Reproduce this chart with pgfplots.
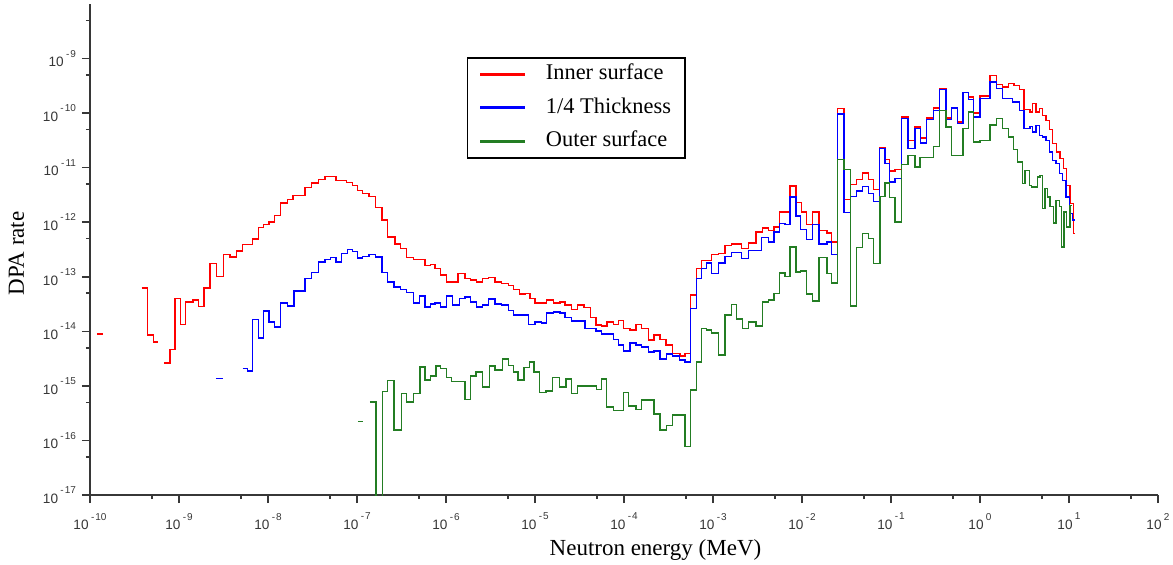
\documentclass[border=0pt]{standalone}
\usepackage{fontspec}
\setmainfont{Liberation Serif}
\newfontfamily\arialf{Liberation Sans}
\usepackage{pgfplots}
\pgfplotsset{compat=1.18}
\definecolor{innerc}{RGB}{255,0,0}
\definecolor{quarterc}{RGB}{0,0,255}
\definecolor{outerc}{RGB}{35,125,35}
\definecolor{axisgray}{RGB}{55,55,55}
% tick label 10^n, the exponent set as raised text
\newcommand{\tl}[1]{10\kern1.2pt\raisebox{4.8pt}{\fontsize{5}{6}\selectfont#1}}
\newcommand{\mi}{-\kern0.5pt}

\begin{document}
\begin{tikzpicture}
\begin{axis}[
  width=534pt, height=245.5pt, scale only axis,
  xmode=log, ymode=log,
  xmin=1e-10, xmax=1e2, ymin=1e-17, ymax=1e-8,
  axis x line*=bottom, axis y line*=left,
  axis line style={-, axisgray, line width=0.75pt},
  tick style={axisgray, line width=0.75pt},
  tick align=outside,
  major tick length=4pt, minor tick length=2pt,
  xtick={1e-10,1e-9,1e-8,1e-7,1e-6,1e-5,1e-4,1e-3,1e-2,1e-1,1,10,100},
  xticklabels={\tl{\mi10},\tl{\mi9},\tl{\mi8},\tl{\mi7},\tl{\mi6},\tl{\mi5},\tl{\mi4},\tl{\mi3},\tl{\mi2},\tl{\mi1},\tl{0},\tl{1},\tl{2}},
  minor xtick={5e-10,5e-9,5e-8,5e-7,5e-6,5e-5,5e-4,5e-3,5e-2,5e-1,5,50},
  ytick={1e-17,1e-16,1e-15,1e-14,1e-13,1e-12,1e-11,1e-10,1e-9},
  yticklabels={\tl{\mi17},\tl{\mi16},\tl{\mi15},\tl{\mi14},\tl{\mi13},\tl{\mi12},\tl{\mi11},\tl{\mi10},\tl{\mi9}},
  minor ytick={5e-17,5e-16,5e-15,5e-14,5e-13,5e-12,5e-11,5e-10,5e-9},
  ticklabel style={font=\arialf\fontsize{6.8}{7.5}\selectfont, text=axisgray},
  xticklabel style={yshift=-1.5pt},
  yticklabel style={xshift=0.5pt},
  xlabel={Neutron energy (MeV)},
  xlabel style={font=\fontsize{11.5}{13}\selectfont, at={(axis description cs:0.5295,-0.1242)}, anchor=base},
  ylabel={DPA rate},
  ylabel style={font=\fontsize{11.5}{13}\selectfont, at={(axis description cs:-0.0618,0.4919)}, anchor=base},
  legend style={at={(0.353,0.892)}, anchor=north west, draw=black, line width=0.75pt,
    font=\fontsize{11.2}{13}\selectfont, inner xsep=5.5pt, inner ysep=1.5pt, row sep=3.3pt,
    nodes={inner sep=1.5pt, text height=8pt, text depth=2.5pt}},
  legend cell align=left,
  legend image code/.code={\draw[#1, line width=1.5pt] (0pt,0pt) -- (22.5pt,0pt); \path (31pt,0pt);},
  every axis plot/.append style={const plot, line width=0.7pt, mark=none},
]
% Inner surface
\addplot[innerc] coordinates {
(6.84e-10,2.65e-15) (7.92e-10,4.66e-15) (9.02e-10,4.0e-14) (1.045e-9,1.35e-14)
(1.19e-9,3.43e-14) (1.43e-9,3.73e-14) (1.66e-9,2.86e-14) (1.92e-9,6.26e-14)
(2.23e-9,1.77e-13) (2.65e-9,1.01e-13) (3.15e-9,2.59e-13) (3.74e-9,2.31e-13)
(4.45e-9,2.98e-13) (5.14e-9,3.91e-13) (6.73e-9,4.94e-13) (7.78e-9,7.99e-13)
(8.88e-9,9.2e-13) (1.03e-8,1.01e-12) (1.18e-8,1.34e-12) (1.39e-8,2.25e-12)
(1.65e-8,2.60e-12) (1.92e-8,3.12e-12) (2.60e-8,4.32e-12) (3.10e-8,5.24e-12)
(3.67e-8,6.06e-12) (4.37e-8,6.96e-12) (5.81e-8,5.88e-12) (7.66e-8,5.33e-12)
(8.95e-8,4.76e-12) (1.01e-7,3.86e-12) (1.16e-7,3.36e-12) (1.37e-7,2.99e-12)
(1.62e-7,1.86e-12) (1.92e-7,1.09e-12) (2.19e-7,5.38e-13) (2.67e-7,3.96e-13)
(3.10e-7,3.34e-13) (3.62e-7,2.26e-13) (4.29e-7,2.10e-13) (5.81e-7,1.63e-13)
(6.73e-7,1.70e-13) (7.52e-7,1.42e-13) (8.72e-7,1.07e-13) (1.02e-6,8.06e-14)
(1.37e-6,1.15e-13) (1.63e-6,9.3e-14) (1.90e-6,8.67e-14) (2.21e-6,8.06e-14)
(2.58e-6,9.3e-14) (2.99e-6,9.7e-14) (3.55e-6,8.06e-14) (4.22e-6,7.54e-14)
(5.01e-6,7.01e-14) (5.70e-6,5.85e-14) (6.66e-6,4.80e-14) (7.72e-6,4.94e-14)
(8.78e-6,4.0e-14) (1.0e-5,3.32e-14) (1.35e-5,3.73e-14) (1.61e-5,3.32e-14)
(1.91e-5,3.47e-14) (2.17e-5,3.02e-14) (2.58e-5,2.52e-14) (2.99e-5,3.02e-14)
(3.55e-5,2.74e-14) (4.22e-5,1.80e-14) (4.85e-5,1.30e-14) (5.61e-5,1.25e-14)
(6.46e-5,1.49e-14) (7.58e-5,1.35e-14) (8.65e-5,1.60e-14) (9.8e-5,1.13e-14)
(1.17e-4,1.05e-14) (1.36e-4,1.35e-14) (1.58e-4,1.13e-14) (1.88e-4,6.9e-15)
(2.17e-4,8.5e-15) (2.54e-4,7.1e-15) (2.96e-4,5.59e-15) (3.52e-4,3.94e-15)
(4.26e-4,3.51e-15) (4.85e-4,3.94e-15) (5.61e-4,4.60e-14) (6.56e-4,1.42e-13)
(7.47e-4,2.01e-13) (9.67e-4,2.56e-13) (1.15e-3,2.67e-13) (1.36e-3,3.79e-13)
(1.62e-3,3.96e-13) (2.10e-3,3.30e-13) (2.49e-3,4.18e-13) (3.04e-3,6.64e-13)
(3.62e-3,7.86e-13) (4.18e-3,7.13e-13) (4.85e-3,8.2e-13) (5.56e-3,1.54e-12)
(7.33e-3,4.62e-12) (8.56e-3,2.29e-12) (9.92e-3,1.54e-12) (1.13e-2,9.2e-13)
(1.32e-2,1.54e-12) (1.56e-2,7.13e-13) (1.90e-2,6.35e-13) (2.16e-2,4.36e-13)
(2.49e-2,1.21e-10) (2.96e-2,2.64e-12) (3.52e-2,4.97e-12) (4.12e-2,6.06e-12)
(4.81e-2,7.99e-12) (5.56e-2,6.06e-12) (6.33e-2,3.97e-12) (7.39e-2,2.29e-11)
(8.56e-2,1.41e-11) (9.57e-2,8.72e-12) (1.11e-1,9.24e-12) (1.32e-1,8.47e-11)
(1.56e-1,3.18e-11) (1.86e-1,5.58e-11) (2.16e-1,3.50e-11) (2.52e-1,8.12e-11)
(2.99e-1,1.24e-10) (3.49e-1,2.81e-10) (4.15e-1,8.12e-11) (4.81e-1,1.24e-10)
(5.56e-1,6.88e-11) (6.46e-1,2.37e-10) (7.39e-1,1.97e-10) (8.41e-1,1.01e-10)
(1.0,2.06e-10) (1.30,4.92e-10) (1.54,3.37e-10) (1.80,3.0e-10)
(2.08,3.47e-10) (2.41,3.23e-10) (2.76,2.69e-10) (3.12,1.16e-10)
(3.65,1.05e-10) (3.91,1.49e-10) (4.26,1.05e-10) (4.64,1.21e-10)
(5.06,9.1e-11) (5.51,7.39e-11) (6.0,4.98e-11) (6.56,2.76e-11)
(7.27,1.94e-11) (7.92,1.47e-11) (8.65,9.6e-12) (9.42,4.76e-12)
(10.26,2.2e-12) (11.2,6.2e-13) (11.7,6.2e-13)
};
\addlegendentry{Inner surface}
% 1/4 Thickness
\addplot[quarterc] coordinates {
(5.19e-9,2.09e-15) (5.85e-9,1.89e-15) (6.73e-9,1.65e-14) (7.78e-9,7.6e-15)
(8.88e-9,2.34e-14) (1.03e-8,1.49e-14) (1.18e-8,1.21e-14) (1.39e-8,3.32e-14)
(1.65e-8,2.93e-14) (1.96e-8,5.52e-14) (2.60e-8,9.3e-14) (3.10e-8,1.20e-13)
(3.67e-8,1.87e-13) (4.37e-8,2.10e-13) (5.06e-8,2.26e-13) (5.81e-8,1.87e-13)
(6.73e-8,2.67e-13) (7.78e-8,3.16e-13) (8.95e-8,2.94e-13) (1.01e-7,2.22e-13)
(1.16e-7,2.38e-13) (1.37e-7,2.59e-13) (1.62e-7,2.31e-13) (1.92e-7,1.20e-13)
(2.19e-7,8.06e-14) (2.60e-7,6.5e-14) (3.10e-7,5.85e-14) (3.62e-7,5.16e-14)
(4.29e-7,3.32e-14) (5.03e-7,4.41e-14) (5.81e-7,2.81e-14) (6.73e-7,3.15e-14)
(7.52e-7,3.32e-14) (8.72e-7,2.81e-14) (1.02e-6,4.41e-14) (1.19e-6,3.02e-14)
(1.41e-6,4.0e-14) (1.63e-6,4.28e-14) (1.90e-6,3.47e-14) (2.21e-6,2.81e-14)
(2.58e-6,3.02e-14) (2.99e-6,3.89e-14) (3.55e-6,3.15e-14) (4.22e-6,3.02e-14)
(5.01e-6,2.44e-14) (5.70e-6,1.98e-14) (8.41e-6,1.35e-14) (1.0e-5,1.49e-14)
(1.19e-5,1.43e-14) (1.35e-5,2.18e-14) (1.61e-5,2.27e-14) (1.91e-5,2.18e-14)
(2.17e-5,1.80e-14) (2.58e-5,1.56e-14) (3.65e-5,1.13e-14) (4.85e-5,1.02e-14)
(5.61e-5,8.9e-15) (7.58e-5,7.1e-15) (8.65e-5,5.59e-15) (9.8e-5,4.39e-15)
(1.17e-4,6.16e-15) (1.36e-4,5.59e-15) (1.58e-4,5.2e-15) (1.88e-4,4.21e-15)
(2.17e-4,4.39e-15) (2.54e-4,3.09e-15) (3.02e-4,3.83e-15) (3.52e-4,3.51e-15)
(4.18e-4,2.96e-15) (4.85e-4,2.76e-15) (5.61e-4,2.63e-14) (6.56e-4,9.3e-14)
(7.47e-4,1.42e-13) (8.49e-4,1.80e-13) (9.67e-4,1.15e-13) (1.15e-3,1.80e-13)
(1.36e-3,2.38e-13) (1.62e-3,2.78e-13) (2.10e-3,2.16e-13) (2.49e-3,3.06e-13)
(3.52e-3,5.24e-13) (4.18e-3,4.36e-13) (4.85e-3,6.64e-13) (5.56e-3,9.46e-13)
(6.44e-3,9.1e-13) (7.33e-3,2.90e-12) (8.56e-3,1.29e-12) (9.67e-3,7.35e-13)
(1.13e-2,4.82e-13) (1.32e-2,9.2e-13) (1.56e-2,3.96e-13) (1.90e-2,4.36e-13)
(2.16e-2,2.56e-13) (2.49e-2,9.7e-11) (2.96e-2,1.52e-12) (3.52e-2,2.99e-12)
(4.12e-2,3.74e-12) (4.81e-2,4.56e-12) (5.56e-2,3.36e-12) (6.33e-2,2.40e-12)
(7.39e-2,2.23e-11) (8.56e-2,1.19e-11) (9.57e-2,5.46e-12) (1.11e-1,6.32e-12)
(1.32e-1,7.93e-11) (1.56e-1,2.23e-11) (1.86e-1,5.2e-11) (2.16e-1,2.83e-11)
(2.52e-1,7.6e-11) (2.99e-1,1.13e-10) (3.49e-1,2.69e-10) (4.15e-1,7.6e-11)
(4.81e-1,1.24e-10) (5.56e-1,6.42e-11) (6.46e-1,2.37e-10) (7.39e-1,1.77e-10)
(8.41e-1,8.47e-11) (1.0,1.84e-10) (1.30,3.71e-10) (1.54,2.81e-10)
(1.80,1.84e-10) (2.33,1.60e-10) (2.76,1.13e-10) (3.12,5.2e-11)
(3.65,5.74e-11) (3.91,4.5e-11) (4.26,5.98e-11) (4.64,3.92e-11)
(5.06,3.65e-11) (5.51,3.18e-11) (6.0,1.94e-11) (6.56,1.37e-11)
(7.14,1.19e-11) (7.78,7.8e-12) (8.49,5.88e-12) (9.25,2.90e-12)
(10.08,1.44e-12) (11.0,1.09e-12) (11.7,1.09e-12)
};
\addlegendentry{1/4 Thickness\hspace{2.5pt}}
% Outer surface
\addplot[outerc] coordinates {
(1.40e-7,5.1e-16) (1.63e-7,1e-18) (1.93e-7,7.8e-16) (2.19e-7,1.25e-15)
(2.60e-7,1.55e-16) (3.18e-7,7.3e-16) (3.62e-7,5.1e-16) (4.29e-7,7.3e-16)
(5.10e-7,2.23e-15) (5.81e-7,1.28e-15) (6.73e-7,1.51e-15) (7.72e-7,2.30e-15)
(8.72e-7,2.09e-15) (1.02e-6,1.43e-15) (1.16e-6,1.19e-15) (1.63e-6,5.66e-16)
(1.90e-6,1.51e-15) (2.17e-6,1.81e-15) (2.58e-6,9.6e-16) (3.06e-6,2.30e-15)
(3.55e-6,1.95e-15) (4.34e-6,3.09e-15) (5.01e-6,2.34e-15) (5.70e-6,1.81e-15)
(6.46e-6,1.28e-15) (7.52e-6,2.18e-15) (8.65e-6,2.76e-15) (9.74e-6,1.81e-15)
(1.12e-5,7.5e-16) (1.33e-5,8.1e-16) (1.58e-5,1.41e-15) (1.88e-5,9.6e-16)
(2.23e-5,1.33e-15) (2.58e-5,7.3e-16) (2.99e-5,9.9e-16) (4.94e-5,8.63e-16)
(5.61e-5,1.33e-15) (6.39e-5,4.13e-16) (7.58e-5,3.50e-16) (9.8e-5,7.5e-16)
(1.12e-4,4.27e-16) (1.36e-4,3.71e-16) (1.58e-4,5.5e-16) (2.17e-4,3.04e-16)
(2.54e-4,1.55e-16) (3.02e-4,1.86e-16) (3.52e-4,2.92e-16) (4.85e-4,7.67e-17)
(5.61e-4,8.4e-16) (6.56e-4,2.76e-15) (7.47e-4,1.13e-14) (8.49e-4,1.05e-14)
(9.67e-4,9.4e-15) (1.15e-3,3.66e-15) (1.36e-3,1.98e-14) (1.62e-3,3.11e-14)
(1.85e-3,1.67e-14) (2.15e-3,1.13e-14) (2.49e-3,1.49e-14) (3.04e-3,1.26e-14)
(3.62e-3,3.47e-14) (4.18e-3,3.73e-14) (4.85e-3,4.94e-14) (5.56e-3,1.18e-13)
(6.44e-3,1.0e-13) (7.33e-3,3.53e-13) (8.56e-3,1.23e-13) (9.67e-3,1.28e-13)
(1.13e-2,4.80e-14) (1.32e-2,3.62e-14) (1.56e-2,2.26e-13) (1.90e-2,1.15e-13)
(2.16e-2,7.74e-14) (2.49e-2,1.42e-11) (2.96e-2,9.24e-12) (3.52e-2,2.89e-14)
(4.12e-2,3.44e-13) (4.81e-2,6.2e-13) (5.56e-2,5.03e-13) (6.33e-2,1.75e-13)
(7.52e-2,2.99e-12) (8.56e-2,5.24e-12) (9.57e-2,2.83e-12) (1.11e-1,1.01e-12)
(1.32e-1,1.15e-11) (1.56e-1,1.69e-11) (1.86e-1,1.03e-11) (2.12e-1,1.53e-11)
(2.99e-1,2.47e-11) (3.49e-1,1.13e-10) (4.15e-1,5.58e-11) (4.81e-1,1.69e-11)
(6.46e-1,5.2e-11) (7.39e-1,1.05e-10) (8.41e-1,2.96e-11) (1.0,3.18e-11)
(1.30,6.1e-11) (1.54,7.93e-11) (1.80,5.2e-11) (2.08,3.65e-11)
(2.37,2.15e-11) (2.62,1.27e-11) (3.02,5.1e-12) (3.20,8.96e-12)
(3.58,4.76e-12) (3.81,4.43e-12) (4.40,6.76e-12) (4.72,7.26e-12)
(5.06,1.78e-12) (5.37,4.13e-12) (5.70,2.90e-12) (6.12,1.93e-12)
(6.66,9.7e-13) (7.14,2.53e-12) (7.78,1.93e-12) (8.28,3.53e-13)
(8.78,1.55e-12) (9.42,8.2e-13) (10.26,2.05e-12) (10.9,2.05e-12)
};
\addlegendentry{Outer surface}
% isolated low-energy bins
\addplot[innerc, forget plot] coordinates {(1.2e-10,8.9e-15) (1.4e-10,8.9e-15)};
\addplot[innerc, forget plot] coordinates {(3.81e-10,6.26e-14) (4.40e-10,8.63e-15) (5.14e-10,6.42e-15) (5.85e-10,6.42e-15)};
\addplot[quarterc, forget plot] coordinates {(2.60e-9,1.35e-15) (3.10e-9,1.35e-15)};
\addplot[outerc, forget plot] coordinates {(1.02e-7,2.2e-16) (1.18e-7,2.2e-16)};
\end{axis}
\path (current axis.south west) ++(-45pt,-35pt) coordinate (bbll);
\path (current axis.north east) ++(7.5pt,2pt) coordinate (bbur);
\pgfresetboundingbox
\useasboundingbox (bbll) rectangle (bbur);
\end{tikzpicture}
\end{document}
